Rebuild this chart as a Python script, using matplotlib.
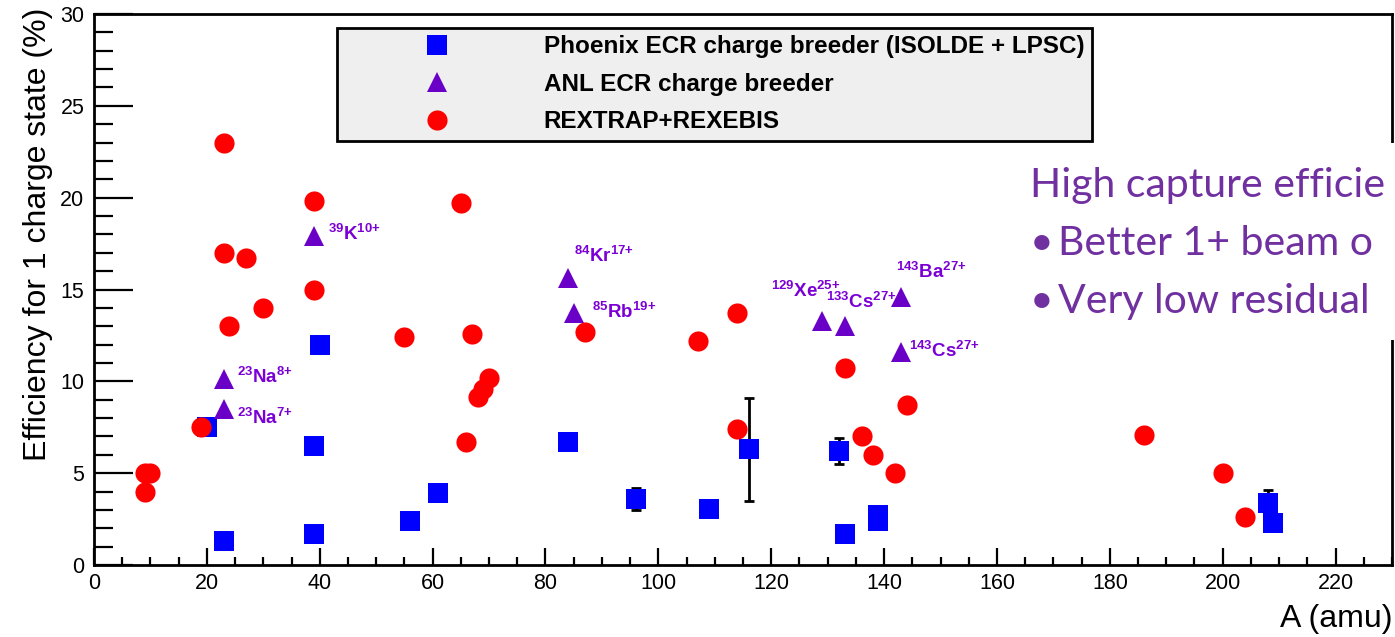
import matplotlib
matplotlib.use('Agg')
import matplotlib.pyplot as plt
from matplotlib.patches import Rectangle
from matplotlib.ticker import MultipleLocator

plt.rcParams['font.family'] = ['Liberation Sans', 'DejaVu Sans']
plt.rcParams['mathtext.fontset'] = 'custom'
plt.rcParams['mathtext.rm'] = 'Liberation Sans'
plt.rcParams['mathtext.bf'] = 'Liberation Sans:bold'
plt.rcParams['mathtext.it'] = 'Liberation Sans:italic'

# Phoenix ECR charge breeder (ISOLDE + LPSC)
phoenix_a = [20, 23, 39, 39, 40, 56, 61, 84, 96, 109, 116, 132, 133, 139, 139, 208, 209]
phoenix_eff = [7.5, 1.3, 6.5, 1.7, 12.0, 2.4, 3.9, 6.7, 3.6, 3.05, 6.3, 6.2, 1.7, 2.7, 2.4, 3.4, 2.3]
phoenix_err = [0, 0, 0, 0, 0, 0, 0, 0, 0.6, 0, 2.8, 0.7, 0, 0, 0, 0.7, 0]

# ANL ECR charge breeder
anl_a = [23, 23, 39, 84, 85, 129, 133, 143, 143]
anl_eff = [10.1, 8.5, 17.9, 15.6, 13.7, 13.3, 13.0, 14.6, 11.6]
anl_ions = [r'$\mathbf{^{23}Na^{8{+}}}$', r'$\mathbf{^{23}Na^{7{+}}}$', r'$\mathbf{^{39}K^{10{+}}}$',
            r'$\mathbf{^{84}Kr^{17{+}}}$', r'$\mathbf{^{85}Rb^{19{+}}}$', r'$\mathbf{^{129}Xe^{25{+}}}$',
            r'$\mathbf{^{133}Cs^{27{+}}}$', r'$\mathbf{^{143}Ba^{27{+}}}$', r'$\mathbf{^{143}Cs^{27{+}}}$']
anl_label_xy = [(25.3, 9.9), (25.3, 7.7), (41.4, 17.7), (85.1, 16.5), (88.3, 13.45),
                (120.0, 14.6), (129.7, 14.0), (142.1, 15.6), (144.4, 11.3)]

# REXTRAP + REXEBIS
rex_a = [9, 9, 10, 19, 23, 23, 24, 27, 30, 39, 39, 55, 65, 66, 67, 68, 69, 70, 87,
         107, 114, 114, 133, 136, 138, 142, 144, 186, 200, 204]
rex_eff = [4.0, 5.0, 5.0, 7.5, 23.0, 17.0, 13.0, 16.7, 14.0, 19.8, 15.0, 12.4, 19.7, 6.7,
           12.6, 9.15, 9.6, 10.2, 12.7, 12.2, 13.7, 7.4, 10.7, 7.0, 6.0, 5.0, 8.7, 7.1, 5.0, 2.6]

blue = '#0000ff'
violet = '#6a00c8'
label_violet = '#7a00d6'
red = '#ff0000'

fig = plt.figure(figsize=(13.95, 6.37), dpi=100)
ax = fig.add_axes([94 / 1395, 72 / 637, 1298 / 1395, 551 / 637])

# error bars for the Phoenix points that have them
err_idx = [i for i, e in enumerate(phoenix_err) if e > 0]
ax.errorbar([phoenix_a[i] for i in err_idx], [phoenix_eff[i] for i in err_idx],
            yerr=[phoenix_err[i] for i in err_idx], fmt='none', ecolor='black',
            elinewidth=2, capsize=3.5, capthick=2, zorder=2)

h1, = ax.plot(phoenix_a, phoenix_eff, 's', color=blue, ms=14.5, mew=0, ls='none', zorder=3,
              label='Phoenix ECR charge breeder (ISOLDE + LPSC)')
h2, = ax.plot(anl_a, anl_eff, '^', color=violet, ms=14.5, mew=0, ls='none', zorder=3,
              label='ANL ECR charge breeder')
h3, = ax.plot(rex_a, rex_eff, 'o', color=red, ms=14.5, mew=0, ls='none', zorder=4,
              label='REXTRAP+REXEBIS')

for txt, (lx, ly) in zip(anl_ions, anl_label_xy):
    ax.text(lx, ly, txt, color=label_violet, fontsize=13.5, va='baseline', ha='left', zorder=5)

ax.set_xlim(0, 230)
ax.set_ylim(0, 30)
ax.xaxis.set_major_locator(MultipleLocator(20))
ax.xaxis.set_minor_locator(MultipleLocator(5))
ax.yaxis.set_major_locator(MultipleLocator(5))
ax.yaxis.set_minor_locator(MultipleLocator(1))
ax.set_xticks([0, 20, 40, 60, 80, 100, 120, 140, 160, 180, 200, 220])

ax.tick_params(axis='y', which='major', direction='in', length=28, width=1.6, labelsize=15.5, pad=7)
ax.tick_params(axis='y', which='minor', direction='in', length=14, width=1.6)
ax.tick_params(axis='x', which='major', direction='in', length=12, width=1.6, labelsize=15.5, pad=6)
ax.tick_params(axis='x', which='minor', direction='in', length=6, width=1.6)
for side in ['left', 'bottom', 'top', 'right']:
    ax.spines[side].set_linewidth(2)

leg = ax.legend(handles=[h1, h2, h3], loc='upper left',
                bbox_to_anchor=((337 - 94) / 1298, (565 - 28) / 551),
                borderaxespad=0, borderpad=0.3, handlelength=7.6, handletextpad=0.6,
                labelspacing=0.6, prop={'weight': 'bold', 'size': 17.5},
                fancybox=False, framealpha=1, edgecolor='black')
leg.get_frame().set_linewidth(2)
leg.get_frame().set_facecolor('#efefef')
leg.set_zorder(6)

fig.text(38 / 1395, 1 - 8 / 637, 'Efficiency for 1 charge state (%)', rotation=90,
         ha='center', va='top', fontsize=23)
fig.text(1392 / 1395, 1 - 627 / 637, 'A (amu)', ha='right', va='baseline', fontsize=23)

# white panel with the slide notes on the right
fig.add_artist(Rectangle((1015 / 1395, 1 - 340 / 637), 380 / 1395, 197 / 637,
                         transform=fig.transFigure, facecolor='white', edgecolor='none', zorder=7))
note_color = '#7030a0'
note_size = 29.5
fig.text(1030 / 1395, 1 - 197 / 637, 'High capture efficie', color=note_color,
         fontsize=note_size, family='Lato', va='baseline', zorder=8)
fig.text(1030 / 1395, 1 - 255 / 637, '\u2022', color=note_color, fontsize=note_size,
         family='Lato', va='baseline', zorder=8)
fig.text(1058 / 1395, 1 - 255 / 637, 'Better 1+ beam o', color=note_color,
         fontsize=note_size, family='Lato', va='baseline', zorder=8)
fig.text(1030 / 1395, 1 - 313 / 637, '\u2022', color=note_color, fontsize=note_size,
         family='Lato', va='baseline', zorder=8)
fig.text(1058 / 1395, 1 - 313 / 637, 'Very low residual', color=note_color,
         fontsize=note_size, family='Lato', va='baseline', zorder=8)

fig.savefig('out.png', dpi=100)
